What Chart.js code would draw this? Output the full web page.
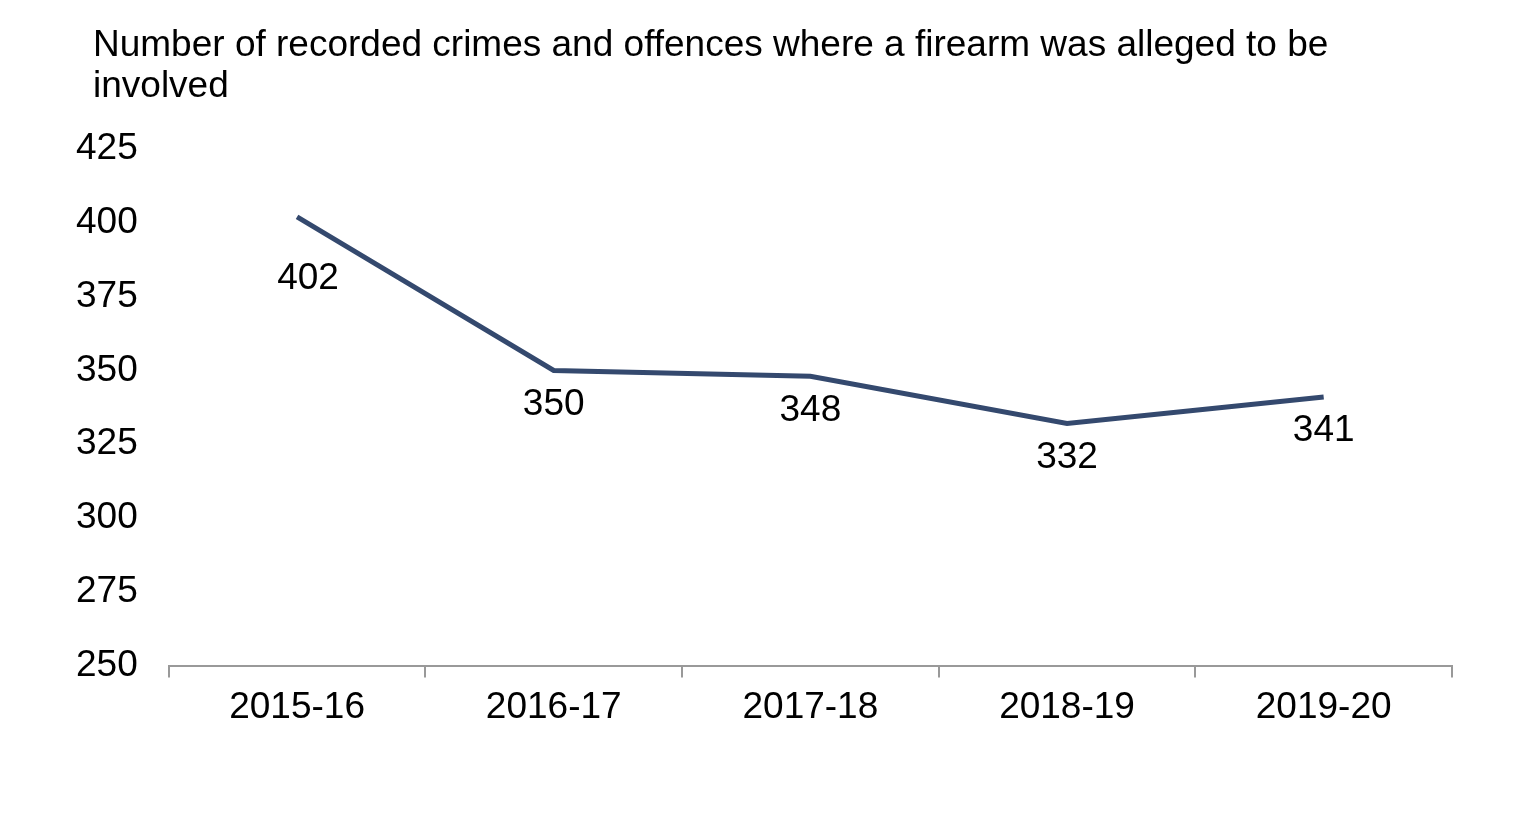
<!DOCTYPE html>
<html>
<head>
<meta charset="utf-8">
<script src="https://cdn.jsdelivr.net/npm/chart.js@4"></script>
<style>
  body { margin: 0; background: #fff; }
  #wrap { position: relative; width: 1538px; height: 834px; }
  #title { position: absolute; left: 93px; top: 23px; font: 37px "Liberation Sans", Arial, sans-serif; line-height: 41px; color: #000; }
  canvas { position: absolute; left: 0; top: 0; }
</style>
</head>
<body>
<div id="wrap">
  <canvas id="chart" width="1538" height="834"></canvas>
  <div id="title">Number of recorded crimes and offences where a firearm was alleged to be<br>involved</div>
</div>
<script>
// Firearm crimes by year
const years = ['2015-16', '2016-17', '2017-18', '2018-19', '2019-20'];
const crimes = [402, 350, 348, 332, 341];
const yMin = 250, yMax = 425, yStep = 25;

const pointLabels = {
  id: 'pointLabels',
  afterDatasetsDraw(chart) {
    const ctx = chart.ctx;
    const meta = chart.getDatasetMeta(0);
    ctx.save();
    ctx.font = '37px "Liberation Sans", Arial, sans-serif';
    ctx.fillStyle = '#000';
    ctx.textAlign = 'center';
    ctx.textBaseline = 'middle';
    meta.data.forEach((pt, i) => {
      const dy = i === 0 ? 62 : 34;
      const dx = i === 0 ? 11 : 0;
      ctx.fillText(crimes[i], pt.x + dx, pt.y + dy);
    });
    ctx.restore();
  }
};

new Chart(document.getElementById('chart'), {
  type: 'line',
  data: {
    labels: years,
    datasets: [{
      data: crimes,
      borderColor: '#34496e',
      borderWidth: 5,
      pointRadius: 0,
      tension: 0
    }]
  },
  options: {
    responsive: false,
    animation: false,
    layout: { padding: { top: 149, left: 53, right: 86, bottom: 96 } },
    plugins: { legend: { display: false }, tooltip: { enabled: false } },
    scales: {
      x: {
        offset: true,
        grid: { offset: true, drawOnChartArea: false, tickLength: 12, color: '#999', lineWidth: 2 },
        border: { color: '#999', width: 2 },
        ticks: { color: '#000', font: { size: 37, family: '"Liberation Sans", Arial, sans-serif' }, padding: 8 }
      },
      y: {
        min: yMin, max: yMax,
        grid: { display: false },
        border: { display: false },
        ticks: { stepSize: yStep, color: '#000', padding: 23, font: { size: 37, family: '"Liberation Sans", Arial, sans-serif' } }
      }
    }
  },
  plugins: [pointLabels]
});
</script>
</body>
</html>
